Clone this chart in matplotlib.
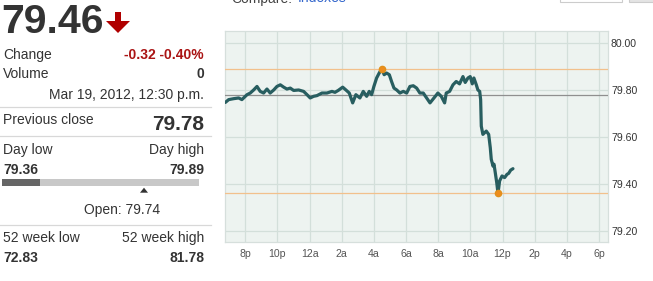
import matplotlib
matplotlib.use('Agg')
from matplotlib import pyplot as plt
from matplotlib.patches import Polygon, Rectangle
from matplotlib.lines import Line2D

plt.rcParams['font.family'] = ['Liberation Sans', 'DejaVu Sans']

# Intraday prices, hours relative to midnight Mar 19, 2012
hours = [-5.24, -5.03, -4.72, -4.41, -4.21, -3.89, -3.69, -3.48, -3.27, -3.07,
         -2.86, -2.65, -2.45, -2.23, -2.03, -1.82, -1.61, -1.41, -1.20, -0.99,
         -0.68, -0.37, -0.16, 0.04, 0.25, 0.46, 0.77, 1.08, 1.39, 1.58,
         1.78, 2.06, 2.26, 2.47, 2.68, 2.88, 3.13, 3.34, 3.55, 3.71,
         3.86, 4.00, 4.17, 4.33, 4.48, 4.64, 4.79, 4.96, 5.10, 5.25,
         5.42, 5.62, 5.83, 6.04, 6.24, 6.45, 6.66, 6.86, 7.07, 7.28,
         7.49, 7.69, 7.90, 7.98, 8.19, 8.40, 8.50, 8.71, 8.92, 9.12,
         9.33, 9.54, 9.68, 9.85, 9.99, 10.12, 10.22, 10.37, 10.47, 10.58,
         10.64, 10.68, 10.78, 10.99, 11.14, 11.24, 11.30, 11.41, 11.47, 11.55,
         11.64, 11.72, 11.82, 11.97, 12.13, 12.28, 12.38, 12.51, 12.65]
prices = [79.747, 79.759, 79.763, 79.766, 79.759, 79.780, 79.787, 79.800, 79.815, 79.794,
          79.787, 79.804, 79.787, 79.800, 79.815, 79.822, 79.812, 79.804, 79.808, 79.798,
          79.800, 79.794, 79.780, 79.766, 79.773, 79.776, 79.787, 79.787, 79.794, 79.790,
          79.798, 79.812, 79.800, 79.787, 79.745, 79.780, 79.766, 79.794, 79.773, 79.794,
          79.780, 79.815, 79.851, 79.872, 79.890, 79.865, 79.872, 79.865, 79.836, 79.808,
          79.800, 79.787, 79.794, 79.787, 79.815, 79.818, 79.808, 79.787, 79.787, 79.766,
          79.745, 79.762, 79.780, 79.787, 79.773, 79.745, 79.787, 79.794, 79.822, 79.836,
          79.826, 79.857, 79.832, 79.851, 79.857, 79.826, 79.851, 79.822, 79.800, 79.794,
          79.759, 79.646, 79.611, 79.625, 79.611, 79.554, 79.505, 79.476, 79.484, 79.448,
          79.406, 79.360, 79.413, 79.434, 79.427, 79.441, 79.445, 79.459, 79.465]

tick_hours = [-4, -2, 0, 2, 4, 6, 8, 10, 12, 14, 16, 18]
tick_labels = ['8p', '10p', '12a', '2a', '4a', '6a', '8a', '10a', '12p', '2p', '4p', '6p']
price_ticks = [79.20, 79.40, 79.60, 79.80, 80.00]

last_price = 79.46
prev_close = 79.78
day_low, day_high = 79.36, 79.89
open_price = 79.74
week52_low, week52_high = 72.83, 81.78

W, H = 653, 281
fig = plt.figure(figsize=(W / 100, H / 100), dpi=100)


def fx(x):
    return x / W


def fy(y):
    return 1 - y / H


# ---- chart ----
ax = fig.add_axes([fx(225), fy(242), fx(607.5) - fx(225), fy(31) - fy(242)])
ax.set_facecolor('#edf3f0')
ax.plot(hours, prices, color='#285e60', lw=2.3, solid_capstyle='round',
        solid_joinstyle='round', zorder=5)
ax.axhline(prev_close, color='#8f8f8f', lw=0.9, zorder=3)
ax.axhline(day_high, color='#f2c08c', lw=0.9, zorder=3)
ax.axhline(day_low, color='#f2c08c', lw=0.9, zorder=3)
i_hi = prices.index(max(prices))
i_lo = prices.index(min(prices))
ax.plot([hours[i_hi], hours[i_lo]], [prices[i_hi], prices[i_lo]], 'o',
        color='#ee8c1c', ms=4.5, mec='#e0901c', zorder=6)

ax.set_xlim(-5.26, 18.53)
ax.set_ylim(79.153, 80.051)
ax.set_xticks(tick_hours)
ax.set_xticklabels(tick_labels)
ax.set_yticks(price_ticks)
ax.set_yticklabels(['%.2f' % v for v in price_ticks])
ax.yaxis.tick_right()
ax.tick_params(axis='y', length=0, pad=2.5, labelsize=7.6, labelcolor='#333333')
ax.tick_params(axis='x', length=0, pad=5, labelsize=7.6, labelcolor='#555555')
ax.grid(True, color='#d3dfda', lw=0.9)
ax.set_axisbelow(True)
for s in ax.spines.values():
    s.set_color('#d6dfdc')
    s.set_linewidth(0.9)

# ---- header above chart (cut off at the top, as in the page capture) ----
fig.text(fx(231.7), fy(2.5), 'Compare:', fontsize=10, color='#444444', va='baseline')
fig.text(fx(297.3), fy(2.5), 'Indexes', fontsize=10, color='#3366cc', va='baseline')
fig.add_artist(Rectangle((fx(560), fy(2)), fx(62), fy(0) - fy(2) + 0.05,
                         transform=fig.transFigure, fc='white', ec='#cccccc', lw=0.8))
fig.add_artist(Rectangle((fx(629), fy(2)), fx(30), fy(0) - fy(2) + 0.05,
                         transform=fig.transFigure, fc='#e4e4e4', ec='#cccccc', lw=0.8))

# ---- left quote panel ----
dark = '#333333'
red = '#aa1414'
fig.text(fx(1), fy(33), '%.2f' % last_price, fontsize=29.5, fontweight='bold',
         color=dark, va='baseline')
arrow = [(115, 12), (121, 12), (121, 21), (130, 21), (118, 33), (106, 21), (115, 21)]
fig.add_artist(Polygon([(fx(x), fy(y)) for x, y in arrow], closed=True,
                       transform=fig.transFigure, fc='#b00000', ec='none'))


def row(y, left, right, rweight='bold', rsize=10, rcolor=dark):
    fig.text(fx(3), fy(y), left, fontsize=10, color=dark, va='baseline')
    fig.text(fx(204), fy(y), right, fontsize=rsize, color=rcolor,
             fontweight=rweight, va='baseline', ha='right')


def sep(y):
    fig.add_artist(Line2D([0, fx(211)], [fy(y), fy(y)], color='#d8d8d8', lw=0.9))


row(58.7, 'Change', '%.2f %.2f%%' % (last_price - prev_close,
                                      (last_price - prev_close) / prev_close * 100),
    rcolor=red)
row(78, 'Volume', '0')
fig.text(fx(204), fy(98.7), 'Mar 19, 2012, 12:30 p.m.', fontsize=10, color=dark,
         va='baseline', ha='right')
sep(107)
fig.text(fx(3), fy(124), 'Previous close', fontsize=10, color=dark, va='baseline')
fig.text(fx(204), fy(130), '%.2f' % prev_close, fontsize=15, fontweight='bold',
         color=dark, va='baseline', ha='right')
sep(136)
fig.text(fx(3), fy(154), 'Day low', fontsize=10, color=dark, va='baseline')
fig.text(fx(204), fy(154), 'Day high', fontsize=10, color=dark, va='baseline', ha='right')
row(174.3, '', '%.2f' % day_high)
fig.text(fx(3), fy(174.3), '%.2f' % day_low, fontsize=10, fontweight='bold',
         color=dark, va='baseline')

# range bar
fig.add_artist(Rectangle((fx(2.3), fy(185.7)), fx(199 - 2.3), fy(179.3) - fy(185.7),
                         transform=fig.transFigure, fc='#c8c8c8', ec='none'))
fig.add_artist(Rectangle((fx(2.3), fy(185.7)), fx(40 - 2.3), fy(179.3) - fy(185.7),
                         transform=fig.transFigure, fc='#666666', ec='none'))
tri = [(140, 192.7), (148, 192.7), (144, 187.7)]
fig.add_artist(Polygon([(fx(x), fy(y)) for x, y in tri], closed=True,
                       transform=fig.transFigure, fc='#333333', ec='none'))
fig.text(fx(122), fy(214), 'Open: %.2f' % open_price, fontsize=10, color=dark,
         va='baseline', ha='center')
sep(225)
fig.text(fx(3), fy(242.3), '52 week low', fontsize=10, color=dark, va='baseline')
fig.text(fx(204), fy(242.3), '52 week high', fontsize=10, color=dark, va='baseline',
         ha='right')
fig.text(fx(3), fy(262.3), '%.2f' % week52_low, fontsize=10, fontweight='bold',
         color=dark, va='baseline')
fig.text(fx(204), fy(262.3), '%.2f' % week52_high, fontsize=10, fontweight='bold',
         color=dark, va='baseline', ha='right')

fig.savefig('out.png', dpi=100)
